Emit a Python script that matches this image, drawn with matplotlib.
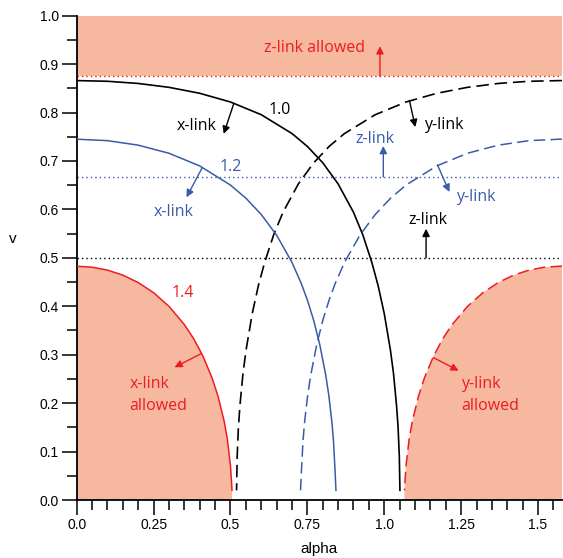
import matplotlib
matplotlib.use("Agg")
import matplotlib.pyplot as plt
from matplotlib.ticker import MultipleLocator, FixedLocator

# ---------------- data ----------------
# ratio 1.0, x-link boundary (solid black)
a_x10 = [0.0, 0.1, 0.2, 0.3, 0.4, 0.5, 0.6, 0.7, 0.75, 0.8, 0.85, 0.9, 0.93, 0.96, 0.98, 1.0, 1.02, 1.03, 1.04, 1.045, 1.049, 1.051]
v_x10 = [0.866, 0.8646, 0.8601, 0.8521, 0.8398, 0.8218, 0.7956, 0.7567, 0.7301, 0.6964, 0.6527, 0.5941, 0.5482, 0.4898, 0.4429, 0.385, 0.310, 0.262, 0.195, 0.150, 0.090, 0.020]
# ratio 1.0, y-link boundary (dashed black)
a_y10 = [1.578, 1.5708, 1.4708, 1.3708, 1.2708, 1.1708, 1.0708, 0.9708, 0.8708, 0.8208, 0.7708, 0.7208, 0.6708, 0.6408, 0.6108, 0.5908, 0.5708, 0.5508, 0.5408, 0.5308, 0.5258, 0.5218, 0.5198]
v_y10 = [0.866, 0.866, 0.8646, 0.8601, 0.8521, 0.8398, 0.8218, 0.7956, 0.7567, 0.7301, 0.6964, 0.6527, 0.5941, 0.5482, 0.4898, 0.4429, 0.385, 0.310, 0.262, 0.195, 0.150, 0.090, 0.020]

# ratio 1.2 (blue)
a_x12 = [0.0, 0.1, 0.2, 0.3, 0.4, 0.5, 0.55, 0.6, 0.65, 0.7, 0.73, 0.75, 0.77, 0.79, 0.81, 0.82, 0.83, 0.835, 0.84, 0.843]
v_x12 = [0.745, 0.742, 0.7327, 0.716, 0.6898, 0.6502, 0.6233, 0.5896, 0.5468, 0.4906, 0.4474, 0.413, 0.3722, 0.3219, 0.2571, 0.215, 0.1597, 0.1215, 0.0611, 0.020]
a_y12 = [1.578, 1.5708, 1.4708, 1.3708, 1.2708, 1.1708, 1.0708, 1.0208, 0.9708, 0.9208, 0.8708, 0.8408, 0.8208, 0.8008, 0.7808, 0.7608, 0.7508, 0.7408, 0.7358, 0.7308, 0.7278]
v_y12 = [0.745, 0.745, 0.742, 0.7327, 0.716, 0.6898, 0.6502, 0.6233, 0.5896, 0.5468, 0.4906, 0.4474, 0.413, 0.3722, 0.3219, 0.2571, 0.215, 0.1597, 0.1215, 0.0611, 0.020]

# ratio 1.4 (red, allowed regions shaded)
a_x14 = [0.0, 0.05, 0.1, 0.15, 0.2, 0.25, 0.3, 0.35, 0.38, 0.41, 0.44, 0.46, 0.48, 0.49, 0.5, 0.503, 0.505]
v_x14 = [0.4827, 0.4807, 0.4747, 0.4643, 0.449, 0.428, 0.3999, 0.3622, 0.3334, 0.2978, 0.2523, 0.2133, 0.1611, 0.125, 0.0706, 0.042, 0.020]
a_y14 = [1.578, 1.5708, 1.5208, 1.4708, 1.4208, 1.3708, 1.3208, 1.2708, 1.2208, 1.1908, 1.1608, 1.1308, 1.1108, 1.0908, 1.0808, 1.0708, 1.0678, 1.0658]
v_y14 = [0.4827, 0.4827, 0.4807, 0.4747, 0.4643, 0.449, 0.428, 0.3999, 0.3622, 0.3334, 0.2978, 0.2523, 0.2133, 0.1611, 0.125, 0.0706, 0.042, 0.020]

# horizontal z-link thresholds
z_levels = [0.875, 0.667, 0.5]
z_colors_key = ["red", "blue", "black"]

xticks = [0.0, 0.25, 0.5, 0.75, 1.0, 1.25, 1.5]
xtick_labels = ["0.0", "0.25", "0.5", "0.75", "1.0", "1.25", "1.5"]
yticks = [0.0, 0.1, 0.2, 0.3, 0.4, 0.5, 0.6, 0.7, 0.8, 0.9, 1.0]
ytick_labels = ["0.0", "0.1", "0.2", "0.3", "0.4", "0.5", "0.6", "0.7", "0.8", "0.9", "1.0"]

# ---------------- style ----------------
RED = "#ED1C24"
BLUE = "#3A5BA8"
BLACK = "#000000"
FILL = "#F6B9A0"
cmap = {"red": RED, "blue": BLUE, "black": BLACK}
XMAX = 1.578
ANN_FONT = ["Open Sans", "DejaVu Sans"]
ANN_SIZE = 11.5

fig = plt.figure(figsize=(5.63, 5.58), dpi=100)
ax = fig.add_axes([76.7 / 563, 1 - 500 / 558, (562 - 76.7) / 563, 484.3 / 558])

# shaded allowed regions
ax.fill_between([0, XMAX], [z_levels[0]] * 2, [1.0] * 2, color=FILL, lw=0, zorder=1)
ax.fill(a_x14 + [a_x14[-1], 0.0], v_x14 + [0.0, 0.0], color=FILL, lw=0, zorder=1)
ax.fill(a_y14 + [a_y14[-1], XMAX], v_y14 + [0.0, 0.0], color=FILL, lw=0, zorder=1)

# horizontal dotted thresholds
for lev, key in zip(z_levels, z_colors_key):
    ax.plot([0, XMAX], [lev, lev], color=cmap[key], lw=1.0, ls=(0, (1, 2.2)), zorder=2)

# curves
dash = (0, (7.5, 3.5))
ax.plot(a_x10, v_x10, color=BLACK, lw=1.2, zorder=3)
ax.plot(a_y10, v_y10, color=BLACK, lw=1.2, ls=dash, zorder=3)
ax.plot(a_x12, v_x12, color=BLUE, lw=1.1, zorder=3)
ax.plot(a_y12, v_y12, color=BLUE, lw=1.1, ls=dash, zorder=3)
ax.plot(a_x14, v_x14, color=RED, lw=1.1, zorder=3)
ax.plot(a_y14, v_y14, color=RED, lw=1.1, ls=dash, zorder=3)

# arrows
def arrow(x0, y0, x1, y1, c):
    ax.annotate("", xy=(x1, y1), xytext=(x0, y0),
                arrowprops=dict(arrowstyle="-|>", color=c, lw=1.0,
                                mutation_scale=11, shrinkA=0, shrinkB=0),
                zorder=4)

arrow(0.986, 0.875, 0.986, 0.937, RED)
arrow(0.511, 0.819, 0.478, 0.756, BLACK)
arrow(0.408, 0.686, 0.357, 0.625, BLUE)
arrow(1.082, 0.825, 1.101, 0.770, BLACK)
arrow(0.997, 0.667, 0.997, 0.731, BLUE)
arrow(1.173, 0.692, 1.212, 0.636, BLUE)
arrow(1.136, 0.500, 1.136, 0.560, BLACK)
arrow(0.404, 0.302, 0.318, 0.274, RED)
arrow(1.160, 0.294, 1.242, 0.267, RED)

# texts
def txt(x, y, s, c, ha="center"):
    ax.text(x, y, s, color=c, ha=ha, va="baseline", fontsize=ANN_SIZE,
            family=ANN_FONT, zorder=5)

txt(0.773, 0.925, "z-link allowed", RED)
txt(0.660, 0.796, "1.0", BLACK)
txt(0.390, 0.764, "x-link", BLACK)
txt(0.502, 0.680, "1.2", BLUE)
txt(0.314, 0.586, "x-link", BLUE)
txt(1.195, 0.767, "y-link", BLACK)
txt(0.971, 0.738, "z-link", BLUE)
txt(1.297, 0.618, "y-link", BLUE)
txt(1.142, 0.570, "z-link", BLACK)
txt(0.345, 0.4185, "1.4", RED)
txt(0.171, 0.2306, "x-link", RED, ha="left")
txt(0.171, 0.1858, "allowed", RED, ha="left")
txt(1.250, 0.2306, "y-link", RED, ha="left")
txt(1.250, 0.1858, "allowed", RED, ha="left")

# axes styling
ax.set_xlim(0, XMAX)
ax.set_ylim(0, 1.0)
for s in ("top", "right"):
    ax.spines[s].set_visible(False)
for s in ("left", "bottom"):
    ax.spines[s].set_linewidth(1.3)

ax.xaxis.set_major_locator(FixedLocator(xticks))
ax.set_xticklabels(xtick_labels)
ax.xaxis.set_minor_locator(MultipleLocator(0.05))
ax.yaxis.set_major_locator(FixedLocator(yticks))
ax.set_yticklabels(ytick_labels)
ax.yaxis.set_minor_locator(MultipleLocator(0.05))
ax.tick_params(which="major", direction="out", length=11, width=1.1,
               labelsize=10, pad=2)
ax.tick_params(which="minor", direction="out", length=7, width=1.1)
for lab in ax.get_xticklabels() + ax.get_yticklabels():
    lab.set_family("Liberation Sans")

ax.set_xlabel("alpha", fontsize=11, family="Liberation Sans", labelpad=7)
ax.set_ylabel("v", fontsize=11, family="Liberation Sans", rotation=0, labelpad=0)
ax.yaxis.set_label_coords(-0.132, 0.525)

fig.savefig("out.png", dpi=100)
